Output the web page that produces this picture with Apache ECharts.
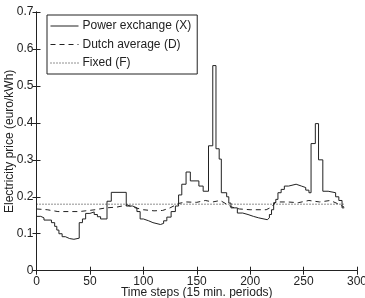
<!DOCTYPE html>
<html>
<head>
<meta charset="utf-8">
<script src="https://cdn.jsdelivr.net/npm/echarts@6/dist/echarts.min.js"></script>
<style>
  html, body { margin: 0; padding: 0; background: #fff; }
  #chart { width: 365px; height: 298px; }
</style>
</head>
<body>
<div id="chart"></div>
<script>
// power exchange (X): step start positions and the price held from there
var exchangeSteps = [0, 4, 7, 14, 17, 19, 21, 24, 27, 31, 35, 40, 43, 46, 50, 54, 57, 60, 66, 70, 84, 90, 94, 97, 100, 105, 109, 116, 119, 122, 126, 130, 133, 136, 140, 144, 152, 156, 161, 165, 168, 171, 173, 178, 180, 182, 188, 193, 198, 203, 208, 216, 218, 220, 222, 224, 226, 229, 232, 236, 243, 248, 252, 255, 257, 261, 264, 268, 273, 280, 283, 286, 288];
var exchangePrice = [0.147, 0.143, 0.137, 0.13, 0.12, 0.11, 0.1, 0.092, 0.087, 0.085, 0.088, 0.13, 0.14, 0.155, 0.159, 0.152, 0.146, 0.14, 0.188, 0.212, 0.175, 0.17, 0.16, 0.14, 0.135, 0.13, 0.125, 0.128, 0.135, 0.145, 0.16, 0.175, 0.205, 0.234, 0.267, 0.243, 0.229, 0.215, 0.338, 0.555, 0.33, 0.302, 0.211, 0.2, 0.183, 0.17, 0.156, 0.152, 0.147, 0.143, 0.138, 0.143, 0.152, 0.165, 0.184, 0.193, 0.211, 0.22, 0.229, 0.234, 0.229, 0.225, 0.218, 0.211, 0.344, 0.398, 0.3, 0.215, 0.211, 0.2, 0.19, 0.17, 0.17];

// dutch average (D)
var dutchSteps = [0, 10, 20, 40, 55, 65, 75, 85, 90, 100, 110, 118, 125, 133, 140, 150, 158, 165, 172, 178, 183, 190, 200, 215, 220, 224, 235, 245, 255, 265, 275, 283, 288];
var dutchPrice = [0.167, 0.165, 0.16, 0.16, 0.165, 0.17, 0.172, 0.178, 0.172, 0.165, 0.162, 0.163, 0.17, 0.182, 0.186, 0.185, 0.19, 0.186, 0.19, 0.18, 0.172, 0.167, 0.165, 0.165, 0.172, 0.186, 0.186, 0.184, 0.19, 0.186, 0.19, 0.18, 0.172];

// fixed (F)
var fixedSteps = [0, 288];
var fixedPrice = [0.18, 0.18];

var seriesNames = ['Power exchange (X)', 'Dutch average (D)', 'Fixed (F)'];

function pairs(xs, ys) {
    var out = [];
    for (var i = 0; i < xs.length; i++) out.push([xs[i], ys[i]]);
    return out;
}

var font = "'Liberation Sans', Arial, sans-serif";
var ink = '#222';

var myChart = echarts.init(document.getElementById('chart'), null, { renderer: 'canvas' });

var axisCommon = {
    axisLine: { show: true, lineStyle: { color: ink, width: 1 } },
    axisTick: { show: true, inside: true, length: 4, lineStyle: { color: ink } },
    splitLine: { show: false }
};

var option = {
    animation: false,
    backgroundColor: '#fff',
    grid: { left: 36.5, right: 8, top: 12, bottom: 27.3, outerBoundsMode: 'none', containLabel: false },
    legend: {
        orient: 'vertical',
        left: 47,
        top: 15,
        padding: [5, 6, 5, 3],
        itemGap: 6.5,
        itemWidth: 28,
        itemHeight: 12,
        backgroundColor: '#fff',
        borderColor: ink,
        borderWidth: 1,
        borderRadius: 0,
        itemStyle: { opacity: 0 },
        lineStyle: { width: 1 },
        textStyle: { fontFamily: font, fontSize: 12, color: ink, padding: [0, 0, 0, -1] },
        data: seriesNames
    },
    xAxis: [
        Object.assign({}, axisCommon, {
            type: 'value', min: 0, max: 300, interval: 50, position: 'bottom',
            name: 'Time steps (15 min. periods)', nameLocation: 'middle', nameGap: 16,
            nameMoveOverlap: false,
            nameTextStyle: { fontFamily: font, fontSize: 12, color: ink },
            axisLabel: { fontFamily: font, fontSize: 12, color: ink, margin: 5 }
        }),
        Object.assign({}, axisCommon, {
            type: 'value', min: 0, max: 300, interval: 50, position: 'top',
            axisLabel: { show: false }
        })
    ],
    yAxis: [
        Object.assign({}, axisCommon, {
            type: 'value', min: 0, max: 0.7, interval: 0.1, position: 'left',
            name: 'Electricity price (euro/kWh)', nameLocation: 'middle', nameGap: 21,
            nameMoveOverlap: false,
            nameTextStyle: { fontFamily: font, fontSize: 12, color: ink },
            axisLabel: { fontFamily: font, fontSize: 12, color: ink, margin: 3 }
        }),
        Object.assign({}, axisCommon, {
            type: 'value', min: 0, max: 0.7, interval: 0.1, position: 'right',
            axisLabel: { show: false }
        })
    ],
    series: [
        {
            name: seriesNames[0], type: 'line', step: 'end', symbol: 'none',
            xAxisIndex: 0, yAxisIndex: 0,
            lineStyle: { color: ink, width: 1 },
            itemStyle: { color: ink },
            data: pairs(exchangeSteps, exchangePrice)
        },
        {
            name: seriesNames[1], type: 'line', symbol: 'none',
            xAxisIndex: 0, yAxisIndex: 0,
            lineStyle: { color: ink, width: 1, type: [5, 4] },
            itemStyle: { color: ink },
            data: pairs(dutchSteps, dutchPrice)
        },
        {
            name: seriesNames[2], type: 'line', symbol: 'none',
            xAxisIndex: 0, yAxisIndex: 0,
            lineStyle: { color: ink, width: 1, type: [1, 2] },
            itemStyle: { color: ink },
            data: pairs(fixedSteps, fixedPrice)
        }
    ]
};
myChart.setOption(option);
</script>
</body>
</html>
